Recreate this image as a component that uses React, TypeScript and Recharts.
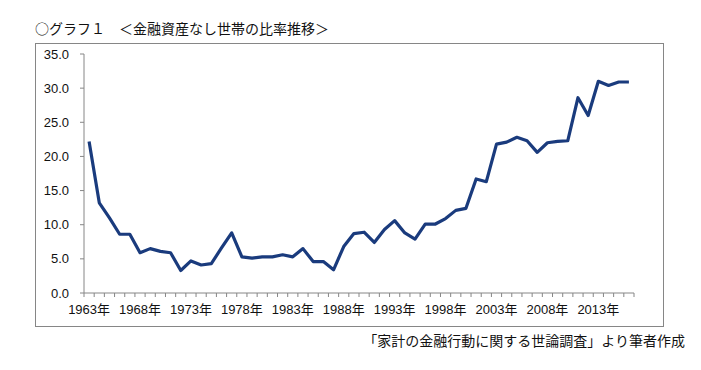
import React from "react";
import { LineChart, Line, XAxis, YAxis } from "recharts";

const years: string[] = [
  "1963", "1964", "1965", "1966", "1967", "1968", "1969", "1970", "1971", "1972",
  "1973", "1974", "1975", "1976", "1977", "1978", "1979", "1980", "1981", "1982",
  "1983", "1984", "1985", "1986", "1987", "1988", "1989", "1990", "1991", "1992",
  "1993", "1994", "1995", "1996", "1997", "1998", "1999", "2000", "2001", "2002",
  "2003", "2004", "2005", "2006", "2007", "2008", "2009", "2010", "2011", "2012",
  "2013", "2014", "2015", "2016",
];

const ratio: number[] = [
  22.2, 13.2, 11.0, 8.6, 8.6, 5.9, 6.5, 6.1, 5.9, 3.3,
  4.7, 4.1, 4.3, 6.6, 8.8, 5.3, 5.1, 5.3, 5.3, 5.6,
  5.3, 6.5, 4.6, 4.6, 3.4, 6.8, 8.7, 8.9, 7.4, 9.3,
  10.6, 8.8, 7.9, 10.1, 10.1, 10.9, 12.1, 12.4, 16.7, 16.3,
  21.8, 22.1, 22.8, 22.3, 20.6, 22.0, 22.2, 22.3, 28.6, 26.0,
  31.0, 30.4, 30.9, 30.9,
];

const yTicks: number[] = [0, 5, 10, 15, 20, 25, 30, 35];

const title = "○グラフ１　＜金融資産なし世帯の比率推移＞";
const footnote = "「家計の金融行動に関する世論調査」より筆者作成";

const data = years.map((y, i) => ({ year: y, value: ratio[i] }));

const FONT = "'Liberation Sans', Arial, 'Noto Sans CJK JP', sans-serif";
const AXIS_COLOR = "#868686";

const CHART_W = 629;
const CHART_H = 284;
const Y_AXIS_W = 49;
const MARGIN = { top: 11, right: 30, bottom: 0, left: 0 };
const PLOT_W = CHART_W - Y_AXIS_W - MARGIN.right - MARGIN.left;
const BAND = PLOT_W / years.length;

const XTick = (props: any) => {
  const { x, y, payload, index } = props;
  const showLabel = index % 5 === 0;
  const isLast = index === years.length - 1;
  return (
    <g>
      <line x1={x - BAND / 2} x2={x - BAND / 2} y1={y} y2={y + 4} stroke={AXIS_COLOR} strokeWidth={1} />
      {isLast && (
        <line x1={x + BAND / 2} x2={x + BAND / 2} y1={y} y2={y + 4} stroke={AXIS_COLOR} strokeWidth={1} />
      )}
      {showLabel && (
        <text x={x} y={y + 21} textAnchor="middle" fontSize={13} fill="#111" fontFamily={FONT}>
          {payload.value + "年"}
        </text>
      )}
    </g>
  );
};

export default function App() {
  return (
    <div
      style={{
        position: "absolute",
        left: 0,
        top: 0,
        width: 701,
        height: 370,
        background: "#fff",
        fontFamily: FONT,
        color: "#111",
      }}
    >
      <div
        style={{
          position: "absolute",
          left: 35,
          top: 20,
          height: 16,
          lineHeight: "16px",
          fontSize: 14,
          whiteSpace: "nowrap",
          fontFamily: "'Noto Sans CJK JP', sans-serif",
        }}
      >
        {title}
      </div>
      <div
        style={{
          position: "absolute",
          left: 35,
          top: 43,
          width: CHART_W,
          height: CHART_H,
          border: `1px solid ${AXIS_COLOR}`,
          boxSizing: "border-box",
        }}
      />
      <div style={{ position: "absolute", left: 35, top: 43 }}>
        <LineChart width={CHART_W} height={CHART_H} data={data} margin={MARGIN}>
          <XAxis
            dataKey="year"
            scale="band"
            interval={0}
            tickSize={0}
            tickMargin={0}
            tickLine={false}
            height={34}
            stroke={AXIS_COLOR}
            tick={<XTick />}
          />
          <YAxis
            domain={[0, 35]}
            ticks={yTicks}
            interval={0}
            width={Y_AXIS_W}
            tickSize={4}
            tickMargin={11}
            stroke={AXIS_COLOR}
            tickFormatter={(v: number) => v.toFixed(1)}
            tick={{ fontSize: 13, fill: "#111", fontFamily: FONT }}
          />
          <Line
            type="linear"
            dataKey="value"
            stroke="#1a3b7d"
            strokeWidth={3.2}
            strokeLinejoin="round"
            dot={false}
            activeDot={false}
            isAnimationActive={false}
          />
        </LineChart>
      </div>
      <div
        style={{
          position: "absolute",
          right: 16,
          top: 332,
          height: 16,
          lineHeight: "16px",
          fontSize: 14,
          whiteSpace: "nowrap",
          fontFamily: "'Noto Sans CJK JP', sans-serif",
        }}
      >
        {footnote}
      </div>
    </div>
  );
}
